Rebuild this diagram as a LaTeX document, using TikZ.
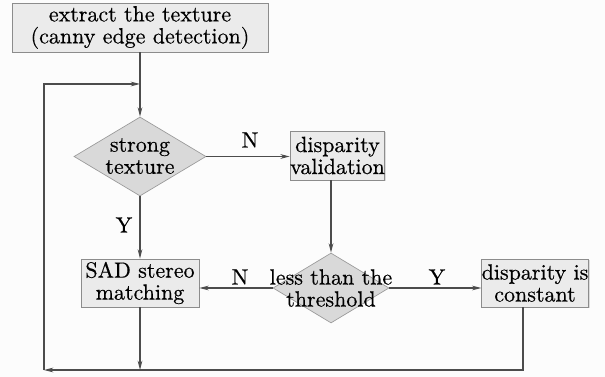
\documentclass[tikz,border=0pt]{standalone}
\usepackage{fontspec}
\setmainfont{lmroman10-regular.otf}[FakeBold=0.5]
\usetikzlibrary{shapes.geometric,arrows.meta,shadows}
\begin{document}
\begin{tikzpicture}[x=0.75pt,y=-0.75pt,
  every node/.style={font=\fontsize{16.5}{16.5}\selectfont},
  box/.style={draw=black!45, fill=black!8, line width=0.6pt, inner sep=0pt, align=center,
    drop shadow={opacity=0.25, shadow xshift=1pt, shadow yshift=-1pt}},
  dia/.style={diamond, draw=black!40, fill=black!15, line width=0.5pt, inner sep=0pt},
  txt/.style={align=center, inner sep=0pt},
  lab/.style={inner sep=0pt},
  conn/.style={draw=black!70, line width=0.8pt},
  arr/.style={conn, -{Stealth[length=7pt,width=3.5pt]}}]
\useasboundingbox (0,0) rectangle (605,377);
\fill[black!1] (0,0) rectangle (605,377);

\node[box, minimum width=192pt, minimum height=36.75pt] (top) at (140,27.5)
  {extract the texture\\(canny edge detection)};
\node[dia, minimum width=99pt, minimum height=59.25pt] (d1) at (140,156.5) {};
\node[txt] (d1t) at (140,156) {strong\\texture};
\node[box, minimum width=69.75pt, minimum height=36.75pt] (dv) at (337.5,155.5)
  {disparity\\validation};
\node[dia, minimum width=87pt, minimum height=52.5pt] (d2) at (331,288) {};
\node[txt] (d2t) at (331,288) {less than the\\threshold};
\node[box, minimum width=88.5pt, minimum height=36pt] (sad) at (140,283)
  {SAD stereo\\matching};
\node[box, minimum width=78pt, minimum height=36pt] (dc) at (535,283)
  {disparity is\\constant};

\coordinate (loopL) at (44,84);
\coordinate (loopR) at (140,84);
\coordinate (botL) at (44,370);
\coordinate (botM) at (140,370);
\coordinate (botR) at (523,370);
\coordinate (dcS) at (523,307);

\draw[arr] (top) -- (d1);
\draw[arr] (d1) -- (dv.west |- d1);
\draw[arr] (d1) -- (sad);
\draw[arr] (d2 |- dv.south) -- (d2.north);
\draw[arr] (d2.west) -- (sad.east |- d2.west);
\draw[arr] (d2.east) -- (dc.west |- d2.east);
\draw[arr] (sad) -- (botM);
\draw[arr] (dcS) -- (botR) -- (botL);
\draw[arr] (botL) -- (loopL) -- (loopR);

\node[lab] (n1) at (250,140) {N};
\node[lab] (y1) at (124,225) {Y};
\node[lab] (n2) at (240,277) {N};
\node[lab] (y2) at (437,277) {Y};
\end{tikzpicture}
\end{document}
